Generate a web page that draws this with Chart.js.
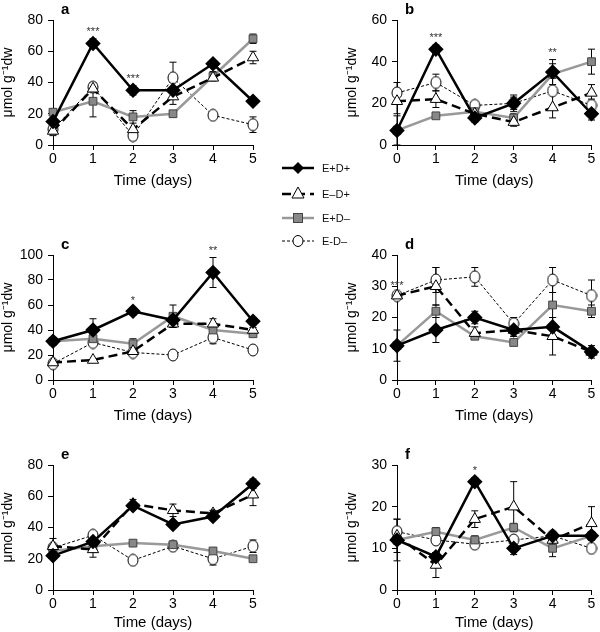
<!DOCTYPE html>
<html>
<head>
<meta charset="utf-8">
<script src="https://cdn.jsdelivr.net/npm/chart.js@4"></script>
<style>
  body { margin: 0; background: #fff; width: 600px; height: 632px; position: relative; overflow: hidden; }
  canvas { position: absolute; }
  #legend { position: absolute; left: 262px; top: 155px; }
  #legend text { font-family: "Liberation Sans Narrow", "Liberation Sans", Arial, sans-serif; font-size: 11px; fill: #111; }
</style>
</head>
<body>
<canvas id="chartA" width="270" height="190" style="left:0;top:0"></canvas>
<canvas id="chartB" width="256" height="190" style="left:344px;top:0"></canvas>
<canvas id="chartC" width="270" height="190" style="left:0;top:235px"></canvas>
<canvas id="chartD" width="256" height="190" style="left:344px;top:235px"></canvas>
<canvas id="chartE" width="270" height="187" style="left:0;top:445px"></canvas>
<canvas id="chartF" width="256" height="187" style="left:344px;top:445px"></canvas>

<svg id="legend" width="90" height="100">
  <line x1="20" y1="13" x2="52" y2="13" stroke="#000" stroke-width="2.5"/>
  <polygon points="36,7 42,13 36,19 30,13" fill="#000"/>
  <text x="60" y="17">E+D+</text>
  <line x1="20" y1="39" x2="52" y2="39" stroke="#000" stroke-width="2.5" stroke-dasharray="9,5"/>
  <polygon points="36,32 42,43 30,43" fill="#fff" stroke="#000"/>
  <text x="60" y="43">E–D+</text>
  <line x1="20" y1="63" x2="52" y2="63" stroke="#999" stroke-width="2.5"/>
  <rect x="31.5" y="58.5" width="9" height="9" fill="#888" stroke="#444"/>
  <text x="60" y="67">E+D–</text>
  <line x1="20" y1="86" x2="52" y2="86" stroke="#000" stroke-width="1" stroke-dasharray="3,2"/>
  <ellipse cx="36" cy="86" rx="5" ry="5.5" fill="#fff" stroke="#000"/>
  <text x="60" y="90">E-D–</text>
</svg>

<script>
const days = [0, 1, 2, 3, 4, 5];
const seriesNames = ['E+D+', 'E–D+', 'E+D–', 'E-D–'];

// values per panel: [E+D+, E-D+, E+D-, E-D-]
const aValues = [
  [15, 65, 35, 35, 52, 28],
  [9, 36, 10, 31, 43, 56],
  [21, 28, 18, 20, 44, 68],
  [10, 37, 6, 43, 19, 13]
];
const aErrors = [
  [2, 3, 3, 0, 2, 2],
  [3, 0, 0, 5, 0, 4],
  [2, 10, 4, 2, 3, 3],
  [3, 3, 3, 10, 0, 5]
];
const aStars = ['', '***', '***', '', '', ''];

const bValues = [
  [7, 46, 13, 20, 35, 15],
  [21, 22, 15, 11, 18, 25],
  [7, 14, 16, 13, 34, 40],
  [25, 30, 19, 20, 26, 19]
];
const bErrors = [
  [7, 2, 2, 3, 6, 3],
  [6, 4, 2, 2, 0, 4],
  [2, 0, 0, 2, 2, 6],
  [5, 4, 2, 4, 13, 3]
];
const bStars = ['', '***', '', '', '**', ''];

const cValues = [
  [31, 40, 55, 48, 86, 47],
  [14, 16, 23, 45, 45, 40],
  [31, 33, 29, 51, 40, 37],
  [13, 30, 22, 20, 34, 24]
];
const cErrors = [
  [2, 9, 3, 0, 12, 3],
  [2, 0, 0, 3, 4, 2],
  [2, 3, 4, 9, 3, 2],
  [2, 2, 2, 0, 5, 0]
];
const cStars = ['', '', '*', '', '**', ''];

const dValues = [
  [11, 16, 20, 16, 17, 9],
  [27, 30, 15, 16, 14, 9],
  [11, 22, 14, 12, 24, 22],
  [27, 32, 33, 18, 32, 27]
];
const dErrors = [
  [5, 4, 2, 2, 3, 1],
  [1, 6, 2, 2, 6, 2],
  [1, 2, 1, 1, 7, 2],
  [1, 4, 3, 2, 4, 5]
];
const dStars = ['***', '', '', '', '', ''];

const eValues = [
  [22, 31, 54, 42, 47, 68],
  [28, 26, 55, 51, 49, 61],
  [25, 28, 30, 29, 25, 20],
  [27, 35, 19, 28, 20, 28]
];
const eErrors = [
  [2, 2, 2, 2, 2, 3],
  [5, 2, 3, 4, 2, 7],
  [2, 7, 1, 1, 1, 1],
  [2, 2, 2, 2, 4, 4]
];
const eStars = ['', '', '', '', '', ''];

const fValues = [
  [12, 8, 26, 10, 13, 13],
  [13, 6, 17, 20, 12, 16],
  [12, 14, 12, 15, 10, 13],
  [14, 12, 11, 12, 13, 10]
];
const fErrors = [
  [5, 1, 1, 1.5, 1, 1],
  [4, 3, 2, 6, 1, 4],
  [1, 1, 1, 1, 2, 1],
  [1, 1, 1, 1, 1, 1]
];
const fStars = ['', '', '*', '', '', ''];

function ellipseImg(w, h) {
  const c = document.createElement('canvas');
  c.width = w + 2; c.height = h + 2;
  const g = c.getContext('2d');
  g.beginPath();
  g.ellipse(c.width / 2, c.height / 2, w / 2, h / 2, 0, 0, Math.PI * 2);
  g.fillStyle = '#fff'; g.fill();
  g.strokeStyle = '#000'; g.lineWidth = 1; g.stroke();
  return c;
}
const ovalPoint = ellipseImg(10, 12);

const styles = [
  { borderColor: '#000', borderWidth: 2.5, pointStyle: 'rectRot', pointRadius: 6, pointBackgroundColor: '#000', pointBorderColor: '#000' },
  { borderColor: '#000', borderWidth: 2.5, borderDash: [9, 5], pointStyle: 'triangle', pointRadius: 6.5, pointBackgroundColor: '#fff', pointBorderColor: '#000', pointBorderWidth: 1 },
  { borderColor: '#999', borderWidth: 2.5, pointStyle: 'rect', pointRadius: 5.5, pointBackgroundColor: '#888', pointBorderColor: '#444', pointBorderWidth: 1 },
  { borderColor: '#000', borderWidth: 1, borderDash: [3, 2], pointStyle: ovalPoint, pointRadius: 6 }
];

const FONT = '"Liberation Sans", Arial, sans-serif';

// error bars under the markers
const errorBars = {
  id: 'errorBars',
  beforeDatasetsDraw(chart) {
    const ctx = chart.ctx, y = chart.scales.y;
    chart.data.datasets.forEach((ds, i) => {
      const meta = chart.getDatasetMeta(i);
      ds.errors.forEach((e, j) => {
        if (!e) return;
        const x = meta.data[j].x;
        const top = y.getPixelForValue(ds.data[j] + e);
        const bot = y.getPixelForValue(Math.max(0, ds.data[j] - e));
        ctx.save();
        ctx.strokeStyle = '#000';
        ctx.lineWidth = 1;
        ctx.beginPath();
        ctx.moveTo(x, top); ctx.lineTo(x, bot);
        ctx.moveTo(x - 3.5, top); ctx.lineTo(x + 3.5, top);
        ctx.moveTo(x - 3.5, bot); ctx.lineTo(x + 3.5, bot);
        ctx.stroke();
        ctx.restore();
      });
    });
  }
};

// panel letter + significance stars
const annotations = {
  id: 'annotations',
  afterDraw(chart, args, opts) {
    const ctx = chart.ctx, area = chart.chartArea, x = chart.scales.x, y = chart.scales.y;
    ctx.save();
    ctx.fillStyle = '#000';
    ctx.font = 'bold 15px ' + FONT;
    ctx.textBaseline = 'middle';
    ctx.fillText(opts.letter, area.left + 8, area.top - 10);
    ctx.font = '11px ' + FONT;
    ctx.fillStyle = '#333';
    ctx.textAlign = 'center';
    opts.stars.forEach((s, j) => {
      if (!s) return;
      let topPx = Infinity;
      chart.data.datasets.forEach(ds => {
        topPx = Math.min(topPx, y.getPixelForValue(ds.data[j] + (ds.errors[j] || 0)));
      });
      ctx.fillText(s, x.getPixelForValue(days[j]), topPx - 7);
    });
    ctx.restore();
  }
};

function makePanel(id, letter, values, errors, stars, yMax, yStep, padRight, xAxisH) {
  const datasets = values.map((v, i) => Object.assign({
    label: seriesNames[i],
    data: v,
    errors: errors[i],
    fill: false,
    tension: 0
  }, styles[i]));
  return new Chart(document.getElementById(id), {
    type: 'line',
    data: { labels: days, datasets: datasets },
    plugins: [errorBars, annotations],
    options: {
      responsive: false,
      animation: false,
      clip: false,
      layout: { padding: { top: 20, right: padRight, left: 0, bottom: 0 } },
      plugins: {
        legend: { display: false },
        tooltip: { enabled: false },
        annotations: { letter: letter, stars: stars }
      },
      scales: {
        x: {
          type: 'linear',
          min: 0, max: 5,
          afterFit: s => { s.height = xAxisH; },
          grid: { drawOnChartArea: false, color: '#000', tickLength: 5 },
          border: { color: '#000', width: 1 },
          ticks: { stepSize: 1, color: '#000', padding: 1, font: { family: FONT, size: 14 } },
          title: { display: true, text: 'Time (days)', color: '#000', padding: 0, font: { family: FONT, size: 15 } }
        },
        y: {
          min: 0, max: yMax,
          afterFit: s => { s.width = 53; },
          grid: { drawOnChartArea: false, color: '#000', tickLength: 5 },
          border: { color: '#000', width: 1 },
          ticks: { stepSize: yStep, color: '#000', padding: 5, font: { family: FONT, size: 14 } },
          title: { display: true, text: 'μmol g⁻¹dw', color: '#000', padding: 0, font: { family: FONT, size: 14 } }
        }
      }
    }
  });
}

makePanel('chartA', 'a', aValues, aErrors, aStars, 80, 20, 17, 45);
makePanel('chartB', 'b', bValues, bErrors, bStars, 60, 20, 5, 45);
makePanel('chartC', 'c', cValues, cErrors, cStars, 100, 20, 17, 45);
makePanel('chartD', 'd', dValues, dErrors, dStars, 40, 10, 5, 45);
makePanel('chartE', 'e', eValues, eErrors, eStars, 80, 20, 17, 42);
makePanel('chartF', 'f', fValues, fErrors, fStars, 30, 10, 5, 42);
</script>
</body>
</html>
